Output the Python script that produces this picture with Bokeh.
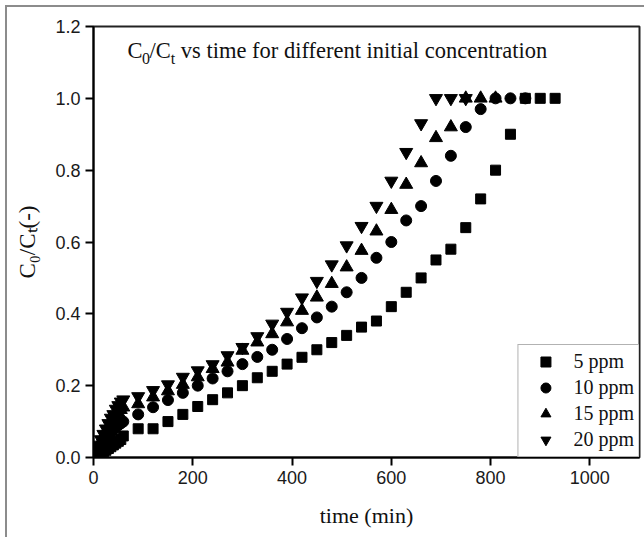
from bokeh.plotting import figure
from bokeh.models import (Label, FixedTicker, Legend, LegendItem, Range1d,
                          PrintfTickFormatter)
from bokeh.embed import file_html
from bokeh.resources import INLINE

# ---------------- data ----------------
time_5 = [0, 5, 10, 15, 20, 25, 30, 35, 40, 45, 50, 55,
          60, 90, 120, 150, 180, 210, 240, 270, 300, 330, 360, 390, 420, 450,
          480, 510, 540, 570, 600, 630, 660, 690, 720, 750, 780, 810, 840, 870,
          900, 930]
ppm_5 = [0.0, 0.004, 0.008, 0.012, 0.016, 0.02, 0.025, 0.03, 0.035, 0.04, 0.045, 0.05,
         0.06, 0.08, 0.08, 0.10, 0.12, 0.142, 0.161, 0.18, 0.20, 0.222, 0.24, 0.26,
         0.279, 0.30, 0.32, 0.34, 0.363, 0.38, 0.42, 0.46, 0.50, 0.55, 0.58, 0.64,
         0.72, 0.80, 0.90, 1.0, 1.0, 1.0]

time_10 = [0, 5, 10, 15, 20, 25, 30, 35, 40, 45, 50, 55,
           60, 90, 120, 150, 180, 210, 240, 270, 300, 330, 360, 390, 420, 450,
           480, 510, 540, 570, 600, 630, 660, 690, 720, 750, 780, 810, 840, 870]
ppm_10 = [0.0, 0.01, 0.02, 0.03, 0.04, 0.05, 0.06, 0.07, 0.077, 0.085, 0.09, 0.095,
          0.10, 0.12, 0.14, 0.16, 0.18, 0.20, 0.22, 0.24, 0.26, 0.28, 0.30, 0.33,
          0.36, 0.39, 0.42, 0.46, 0.50, 0.556, 0.60, 0.66, 0.70, 0.77, 0.84, 0.92,
          0.97, 1.0, 1.0, 1.0]

time_15 = [0, 5, 10, 15, 20, 25, 30, 35, 40, 45, 50, 55,
           60, 90, 120, 150, 180, 210, 240, 270, 300, 330, 360, 390, 420, 450,
           480, 510, 540, 570, 600, 630, 660, 690, 720, 750, 780, 810]
ppm_15 = [0.0, 0.015, 0.03, 0.045, 0.06, 0.07, 0.085, 0.095, 0.105, 0.115, 0.125, 0.133,
          0.14, 0.149, 0.168, 0.185, 0.203, 0.224, 0.247, 0.265, 0.298, 0.321, 0.344,
          0.377, 0.409, 0.446, 0.484, 0.53, 0.576, 0.63, 0.69, 0.76, 0.82, 0.89, 0.92,
          1.0, 1.0, 1.0]

time_20 = [0, 5, 10, 15, 20, 25, 30, 35, 40, 45, 50, 55,
           60, 90, 120, 150, 180, 210, 240, 270, 300, 330, 360, 390, 420, 450,
           480, 510, 540, 570, 600, 630, 660, 690, 720, 750]
ppm_20 = [0.0, 0.02, 0.035, 0.05, 0.065, 0.08, 0.095, 0.11, 0.12, 0.135, 0.145, 0.155,
          0.161, 0.170, 0.187, 0.203, 0.224, 0.242, 0.259, 0.284, 0.307, 0.337, 0.372,
          0.405, 0.445, 0.491, 0.537, 0.59, 0.644, 0.70, 0.77, 0.85, 0.93, 1.0, 1.0, 1.0]

series_labels = ["5 ppm", "10 ppm", "15 ppm", "20 ppm"]
x_ticks = [0, 200, 400, 600, 800, 1000]
y_ticks = [0.0, 0.2, 0.4, 0.6, 0.8, 1.0, 1.2]
title_rest = "vs time for different initial concentration"
x_label = "time (min)"
y_label = "C\u2080/C\u209c(-)"

SERIF = "Liberation Serif"
SANS = "Liberation Sans"

p = figure(width=644, height=537, output_backend="svg", toolbar_location=None,
           x_range=Range1d(0, 1100), y_range=Range1d(0, 1.2),
           min_border_left=93, min_border_right=5, min_border_top=26,
           min_border_bottom=80, background_fill_color="white",
           border_fill_color=None)
p.styles = {"box-shadow": "inset 5px 5px 0 0 #ffffff, inset 7px 7px 0 0 #8c8c8c"}

p.xgrid.visible = False
p.ygrid.visible = False
p.outline_line_color = "#222222"
p.outline_line_width = 2
p.outline_line_alpha = 1

for ax in (p.xaxis[0], p.yaxis[0]):
    ax.axis_line_width = 2
    ax.axis_line_color = "black"
    ax.major_tick_line_width = 2
    ax.major_tick_line_color = "black"
    ax.major_tick_out = 8
    ax.major_tick_in = 0
    ax.minor_tick_out = 0
    ax.minor_tick_in = 0
    ax.major_label_text_font = SANS
    ax.major_label_text_font_size = "18px"
    ax.major_label_text_color = "#1a1a1a"
    ax.major_label_standoff = 5
    ax.axis_label_text_font = SERIF
    ax.axis_label_text_font_style = "normal"
    ax.axis_label_text_color = "#111111"

p.xaxis.ticker = FixedTicker(ticks=x_ticks)
p.yaxis.ticker = FixedTicker(ticks=y_ticks)
p.yaxis.formatter = PrintfTickFormatter(format="%.1f")

p.xaxis.axis_label = x_label
p.xaxis.axis_label_text_font_size = "22px"
p.xaxis.axis_label_standoff = 16

p.yaxis.axis_label = y_label
p.yaxis.axis_label_text_font_size = "23px"
p.yaxis.axis_label_standoff = 12

r5 = p.scatter(time_5, ppm_5, marker="square", size=10, color="black")
r10 = p.scatter(time_10, ppm_10, marker="circle", size=11, color="black")
r15 = p.scatter(time_15, ppm_15, marker="triangle", size=13, color="black")
r20 = p.scatter(time_20, ppm_20, marker="inverted_triangle", size=13, color="black")

legend = Legend(items=[LegendItem(label=series_labels[0], renderers=[r5]),
                       LegendItem(label=series_labels[1], renderers=[r10]),
                       LegendItem(label=series_labels[2], renderers=[r15]),
                       LegendItem(label=series_labels[3], renderers=[r20])],
                location="bottom_right", margin=0, padding=4, spacing=1,
                glyph_width=46, glyph_height=25, label_height=25,
                label_standoff=5, label_text_font=SERIF,
                label_text_font_size="20px", label_text_color="#111111",
                border_line_color="#666666", border_line_width=1.5,
                background_fill_color="white", background_fill_alpha=1)
p.add_layout(legend)

# ---------------- title inside the plot ----------------
FS = 22.5
SUB = 16
tx, ty = 68.5, 1.133
pieces = [("C", 0, 0, FS), ("0", 14.5, -8, SUB), ("/C", 22, 0, FS),
          ("t", 43.3, -8, SUB), (title_rest, 53.3, 0, FS)]
for txt, xo, yo, fs in pieces:
    p.add_layout(Label(x=tx, y=ty, text=txt, x_offset=xo, y_offset=yo,
                       text_font=SERIF, text_font_size=f"{fs}px",
                       text_color="#111111", text_baseline="alphabetic",
                       text_align="left"))

open("out.html", "w").write(file_html(p, INLINE))
